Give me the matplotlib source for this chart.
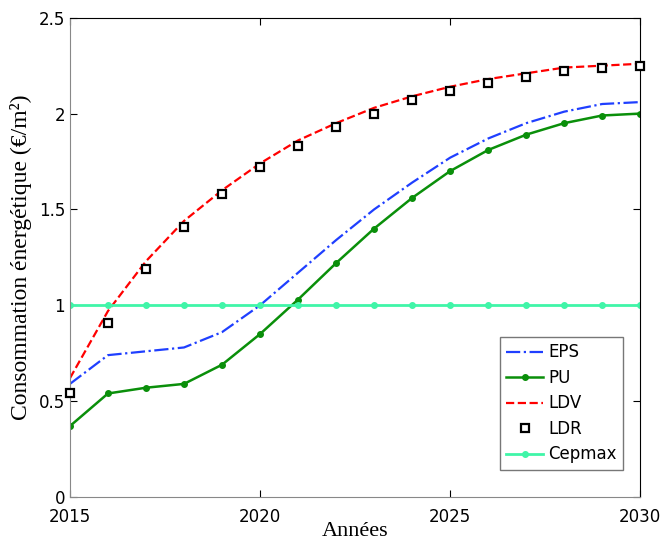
import numpy as np
import matplotlib

matplotlib.use("Agg")
import matplotlib.pyplot as plt  # noqa: E402


years = np.arange(2015, 2031)

eps = [0.59, 0.74, 0.76, 0.78, 0.86, 1.00, 1.17, 1.34, 1.50, 1.64,
       1.77, 1.87, 1.95, 2.01, 2.05, 2.06]
pu = [0.37, 0.54, 0.57, 0.59, 0.69, 0.85, 1.03, 1.22, 1.40, 1.56,
      1.70, 1.81, 1.89, 1.95, 1.99, 2.00]
ldv = [0.62, 0.97, 1.23, 1.44, 1.60, 1.74, 1.86, 1.95, 2.03, 2.09,
       2.14, 2.18, 2.21, 2.24, 2.25, 2.26]
ldr = [0.54, 0.91, 1.19, 1.41, 1.58, 1.72, 1.83, 1.93, 2.00, 2.07,
       2.12, 2.16, 2.19, 2.22, 2.24, 2.25]
cepmax = [1.0] * len(years)

x_ticks = [2015, 2020, 2025, 2030]
y_ticks = [0, 0.5, 1, 1.5, 2, 2.5]


def main() -> None:
    fig = plt.figure(figsize=(6.6, 5.44), dpi=100)
    ax = fig.add_axes([0.106, 0.0864, 0.864, 0.881])

    ax.plot(years, eps, linestyle="-.", color="#1f3fff", lw=1.6, label="EPS")
    ax.plot(years, pu, "-", color="#0a8f0a", lw=1.8, marker="o", ms=4, label="PU")
    ax.plot(years, ldv, "--", color="#ff0000", lw=1.6, label="LDV")
    ax.plot(years, ldr, linestyle="none", marker="s", ms=6, mfc="white",
            mec="black", mew=1.6, label="LDR", clip_on=False, zorder=5)
    ax.plot(years, cepmax, "-", color="#40f5a8", lw=2.0, marker="o", ms=4,
            label="Cepmax")

    ax.set_xlim(2015, 2030)
    ax.set_ylim(0, 2.5)
    ax.set_xticks(x_ticks)
    ax.set_yticks(y_ticks)
    ax.set_yticklabels(["0", "0.5", "1", "1.5", "2", "2.5"])
    ax.tick_params(direction="in", top=True, right=True, labelsize=12, length=5)
    ax.tick_params(axis="x", pad=8)
    for side in ("left", "bottom"):
        ax.spines[side].set_color("#888888")

    ax.set_xlabel("Années", family="Liberation Serif", size=16, labelpad=-3)
    ax.set_ylabel("Consommation énergétique (€/m²)", family="Liberation Serif",
                  size=17, labelpad=5)

    leg = ax.legend(loc="lower right", bbox_to_anchor=(0.97, 0.056),
                    borderaxespad=0, fancybox=False, fontsize=12,
                    handlelength=2.2, handletextpad=0.3, labelspacing=0.45)
    leg.get_frame().set_edgecolor("#555555")
    leg.get_frame().set_linewidth(1.0)

    fig.savefig("out.png", dpi=100)
    plt.close(fig)


if __name__ == "__main__":
    main()
